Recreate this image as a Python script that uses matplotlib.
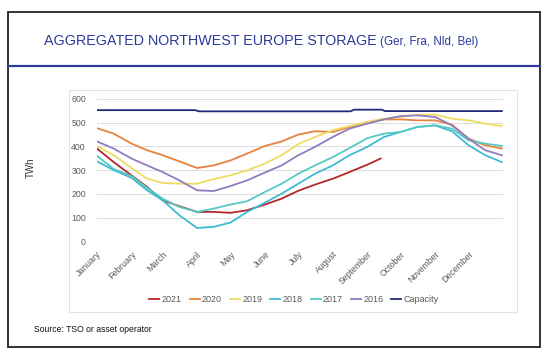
import matplotlib
matplotlib.use("Agg")
import matplotlib.pyplot as plt
from matplotlib.patches import Rectangle
from matplotlib.lines import Line2D

plt.rcParams['font.family'] = ['Liberation Sans', 'DejaVu Sans']

# ---------------- data ----------------
months = ["January", "February", "March", "April", "May", "June", "July",
          "August", "September", "October", "November", "December"]
month_start_days = [0, 31, 59, 90, 120, 151, 181, 212, 243, 273, 304, 334]

days = [0, 15, 31, 45, 59, 74, 90, 105, 120, 135, 151, 166, 181, 196, 212,
        227, 243, 258, 273, 288, 304, 319, 334, 349, 364]

s2020 = [477, 454, 412, 384, 363, 337, 309, 320, 341, 370, 402, 421, 450, 464,
         461, 482, 503, 514, 514, 510, 510, 492, 433, 405, 391]
s2019 = [402, 363, 309, 264, 246, 243, 243, 262, 278, 299, 328, 363, 410, 440,
         468, 486, 503, 517, 524, 534, 534, 517, 510, 496, 486]
s2018 = [337, 300, 268, 215, 173, 110, 56, 61, 79, 124, 163, 201, 243, 285,
         320, 363, 398, 440, 461, 482, 489, 464, 405, 363, 334]
s2017 = [360, 305, 275, 225, 180, 145, 124, 138, 155, 169, 208, 243, 285, 320,
         355, 393, 435, 454, 461, 482, 489, 475, 426, 412, 402]
s2016 = [421, 391, 349, 320, 292, 257, 215, 212, 233, 257, 290, 320, 363, 398,
         440, 475, 496, 514, 528, 531, 524, 489, 433, 384, 363]

days_2021 = [0, 15, 31, 45, 59, 74, 90, 105, 120, 135, 151, 166, 181, 196, 212,
             227, 243, 255]
s2021 = [391, 334, 278, 229, 173, 148, 124, 124, 120, 131, 155, 180, 213, 239,
         264, 292, 323, 349]

days_cap = [0, 88, 92, 228, 231, 256, 259, 364]
capacity = [553, 553, 548, 548, 555, 555, 549, 549]

yticks = [0, 100, 200, 300, 400, 500, 600]

# ---------------- figure ----------------
W, H = 548, 354
fig = plt.figure(figsize=(W / 100, H / 100), dpi=100)

def fx(px):
    return px / W

def fy(py):
    return 1 - py / H

# outer frame
fig.add_artist(Rectangle((fx(8), fy(347)), fx(540) - fx(8), fy(12) - fy(347),
                         transform=fig.transFigure, fill=False,
                         edgecolor='#222222', lw=1.3))
# title rule
fig.add_artist(Line2D([fx(8), fx(540)], [fy(66), fy(66)],
                      transform=fig.transFigure, color='#2E3C9E', lw=1.6))
# inner chart frame
fig.add_artist(Rectangle((fx(69), fy(312)), fx(517) - fx(69), fy(90) - fy(312),
                         transform=fig.transFigure, fill=False,
                         edgecolor='#E3E3E3', lw=0.8))

t_main = fig.text(fx(44), fy(41), "AGGREGATED NORTHWEST EUROPE STORAGE",
                  fontsize=10.3, color='#2B3A9B', ha='left', va='center')
renderer = fig.canvas.get_renderer()
bb = t_main.get_window_extent(renderer=renderer)
fig.text((bb.x1 + 3) / W, fy(41.5), "(Ger, Fra, Nld, Bel)",
         fontsize=8.4, color='#2B3A9B', ha='left', va='center')

fig.text(fx(34), fy(329), "Source: TSO or asset operator",
         fontsize=6.2, color='#111111', ha='left', va='center')

ax = fig.add_axes([fx(97), fy(241.3), fx(503) - fx(97), fy(99) - fy(241.3)])

series = [
    ("2021", days_2021, s2021, '#B5262B'),
    ("2020", days, s2020, '#E8823E'),
    ("2019", days, s2019, '#EFDC62'),
    ("2018", days, s2018, '#3EBBD2'),
    ("2017", days, s2017, '#52CBC3'),
    ("2016", days, s2016, '#8F7DC0'),
]
for name, d, v, c in series:
    ax.plot(d, v, color=c, lw=1.3, label=name, solid_joinstyle='round')
ax.plot(days_cap, capacity, color='#1F2A78', lw=1.3, label="Capacity")

ax.set_xlim(0, 365)
ax.set_ylim(0, 600)
ax.set_yticks(yticks)
ax.set_yticklabels([str(t) for t in yticks])
ax.set_xticks(month_start_days)
ax.set_xticklabels(months, rotation=45, ha='right', rotation_mode='anchor')
ax.tick_params(axis='both', length=0, labelsize=6.3, colors='#595959')
ax.tick_params(axis='y', pad=8)
ax.tick_params(axis='x', pad=6)
ax.grid(axis='y', color='#DDDDDD', lw=0.7)
ax.set_axisbelow(True)
for sp in ax.spines.values():
    sp.set_visible(False)

fig.text(fx(31), fy(168), "TWh", rotation=90, fontsize=7, color='#333333',
         ha='center', va='center')

handles, labels = ax.get_legend_handles_labels()
fig.legend(handles, labels, loc='center', bbox_to_anchor=(fx(294), fy(300)),
           ncol=7, frameon=False, fontsize=6.5, handlelength=1.1,
           handletextpad=0.25, columnspacing=0.9, labelcolor='#595959')

fig.savefig("out.png", dpi=100)
